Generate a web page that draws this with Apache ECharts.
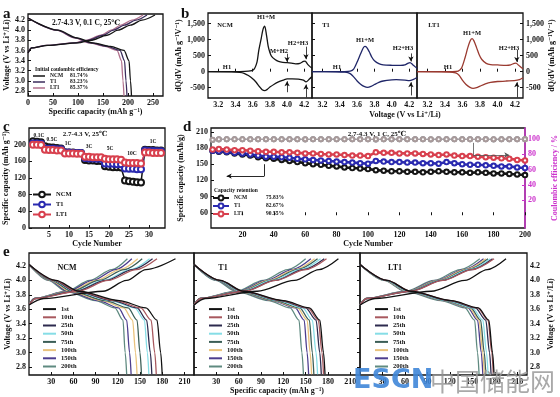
<!DOCTYPE html>
<html>
<head>
<meta charset="utf-8">
<script src="https://cdn.jsdelivr.net/npm/echarts@6/dist/echarts.min.js"></script>
<style>
  html, body { margin: 0; padding: 0; background: #fff; }
  #chart { width: 560px; height: 397px; }
</style>
</head>
<body>
<div id="chart"></div>
<script>
// ---------- a: first charge / discharge, 0.1 C ----------
const A_CH_V = [3.55, 3.65, 3.7, 3.75, 3.8, 3.9, 4.0, 4.1, 4.2, 4.3];
const A_CH_NCM = [0, 8, 40, 100, 125, 158, 180, 205, 228, 254];
const A_CH_T1 = [0, 7, 38, 95, 119, 150, 171, 193, 216, 238];
const A_CH_LT1 = [0, 7, 37, 92, 116, 146, 166, 186, 208, 230];
const A_DIS_V = [4.24, 4.0, 3.85, 3.75, 3.68, 3.6, 3.4, 3.0, 2.7];
const A_DIS_NCM = [0, 60, 98, 130, 165, 192, 202, 205, 207];
const A_DIS_T1 = [0, 58, 95, 126, 158, 184, 193, 196, 198];
const A_DIS_LT1 = [0, 57, 93, 123, 154, 178, 187, 190, 192];
const A_ICE = ['81.74%', '83.23%', '85.37%'];

// ---------- b: dQ/dV, [voltage, dQ/dV] ----------
const B_NCM_UP = [[3.08,0],[3.45,2],[3.55,15],[3.61,60],[3.65,300],[3.67,650],[3.7,1050],[3.72,1320],[3.74,1420],[3.76,1150],[3.78,800],[3.8,600],[3.82,480],[3.86,380],[3.9,320],[3.95,290],[4.0,280],[4.05,265],[4.1,245],[4.15,260],[4.19,320],[4.21,330],[4.24,230],[4.27,150],[4.29,110]];
const B_NCM_DN = [[4.29,-150],[4.26,-230],[4.22,-320],[4.19,-260],[4.13,-230],[4.06,-225],[4.0,-225],[3.96,-260],[3.9,-320],[3.85,-390],[3.8,-480],[3.77,-550],[3.74,-590],[3.71,-560],[3.68,-470],[3.64,-330],[3.6,-220],[3.55,-120],[3.5,-50],[3.45,-20],[3.35,-5],[3.08,0]];
const B_T1_UP = [[3.08,0],[3.45,3],[3.52,15],[3.56,80],[3.6,300],[3.64,560],[3.67,740],[3.69,790],[3.71,760],[3.74,620],[3.77,450],[3.8,340],[3.85,250],[3.9,215],[4.0,200],[4.1,195],[4.15,210],[4.19,270],[4.21,280],[4.24,220],[4.27,150],[4.29,100]];
const B_T1_DN = [[4.29,-180],[4.25,-240],[4.2,-280],[4.15,-260],[4.05,-250],[4.0,-255],[3.9,-290],[3.85,-330],[3.8,-400],[3.76,-460],[3.72,-490],[3.68,-460],[3.64,-390],[3.6,-290],[3.56,-160],[3.52,-60],[3.46,-15],[3.35,-3],[3.08,0]];
const B_LT1_UP = [[3.08,0],[3.48,3],[3.55,20],[3.59,120],[3.63,450],[3.66,750],[3.69,980],[3.71,1030],[3.73,960],[3.76,750],[3.79,530],[3.82,380],[3.87,260],[3.92,220],[4.0,210],[4.1,200],[4.15,215],[4.19,260],[4.21,265],[4.24,200],[4.27,130],[4.29,90]];
const B_LT1_DN = [[4.29,-190],[4.25,-250],[4.19,-280],[4.1,-290],[4.0,-305],[3.92,-330],[3.86,-380],[3.8,-450],[3.76,-500],[3.72,-520],[3.68,-480],[3.64,-400],[3.6,-270],[3.56,-110],[3.52,-40],[3.45,-10],[3.08,0]];

// ---------- c: rate capability ----------
const C_CYC = [1,2,3,4,5,6,7,8,9,10,11,12,13,14,15,16,17,18,19,20,21,22,23,24,25,26,27,28,29,30,31,32,33];
const C_NCM = [208,207,206, 196,194,193,192,191, 182,181,181,180,180, 163,162,162,161,161, 148,147,146,146,145, 114,112,111,110,109, 188,187,187,186,186];
const C_T1 = [203,203,202, 191,190,190,189,189, 181,181,180,180,180, 168,167,167,166,166, 155,154,154,153,153, 143,142,142,141,141, 186,185,185,184,184];
const C_LT1 = [200,200,199, 188,187,187,186,186, 179,179,179,178,178, 171,171,170,170,170, 166,165,165,165,164, 157,156,156,156,155, 181,181,180,180,180];
const C_RATES = ['0.1C', '0.5C', '1C', '3C', '5C', '10C', '1C'];

// ---------- d: cycling at 1 C ----------
const D_CYC = [1,5,10,15,20,25,30,35,40,45,50,55,60,65,70,75,80,85,90,95,100,105,110,115,120,125,130,135,140,145,150,155,160,165,170,175,180,185,190,195,200];
const D_NCM = [175,173,172,170,168,166,163,161,160,158,156,154,152,150,149,147,146,144,143,142,141,139,138,137,137,136,136,135,136,137,136,135,135,134,135,134,133,133,132,131,130];
const D_T1 = [175,174,173,171,170,168,166,164,164,163,162,160,159,158,157,156,155,154,153,152,151,156,155,154,154,153,153,152,152,151,154,152,150,149,149,148,147,146,146,144,143];
const D_LT1 = [177,178,177,176,176,175,174,173,173,172,172,171,170,170,169,168,168,167,166,166,165,172,171,171,170,170,170,169,168,167,168,166,165,165,164,163,162,161,160,158,157];
const D_CE_NCM = [98.6,99.4,99.6,99.5,99.7,99.6,99.5,99.8,99.6,99.5,99.7,99.6,99.4,99.7,99.6,99.5,99.8,99.6,99.5,99.7,99.6,99.3,99.7,99.5,99.6,99.8,99.5,99.6,99.4,99.7,99.6,99.5,99.8,99.6,99.5,99.7,99.4,99.6,99.5,99.7,99.6];
const D_CE_T1 = [98.9,99.5,99.7,99.6,99.5,99.8,99.6,99.7,99.5,99.6,99.8,99.5,99.7,99.6,99.5,99.7,99.6,99.8,99.5,99.6,99.7,99.4,99.6,99.7,99.5,99.6,99.8,99.5,99.7,99.6,99.5,99.7,99.6,99.5,99.8,99.6,99.5,99.7,99.6,99.5,99.7];
const D_CE_LT1 = [99.1,99.6,99.8,99.7,99.6,99.8,99.7,99.6,99.8,99.7,99.6,99.8,99.7,99.6,99.8,99.7,99.6,99.8,99.7,99.6,99.8,99.5,99.7,99.8,99.6,99.7,99.8,99.6,99.7,99.8,99.6,99.7,99.8,99.6,99.7,99.8,99.6,99.7,99.8,99.6,99.7];
const D_RET = ['75.83%', '82.67%', '90.55%'];

// ---------- e: charge/discharge curves of selected cycles ----------
const E_CYCLES = ['1st', '10th', '25th', '50th', '75th', '100th', '150th', '200th'];
const E_CH_V = [3.66, 3.75, 3.85, 4.0, 4.15, 4.3];           // capacities below are read at these voltages
const E_DIS_V = [4.22, 4.0, 3.85, 3.72, 3.62, 3.45, 3.0, 2.7];
const E_NCM_CH = [[0,20,100,132,158,198],[0,9,66,107,145,173],[0,8,63,104,140,167],[0,8,62,101,137,163],[0,8,58,95,129,153],[0,7,56,91,123,147],[0,7,53,86,117,139],[0,7,51,82,112,133]];
const E_NCM_DIS = [[0,36,68,122,158,173,178,180],[0,34,65,117,151,165,170,172],[0,33,63,113,146,159,164,166],[0,32,62,110,143,156,160,162],[0,30,58,103,134,146,150,152],[0,29,55,99,128,140,144,146],[0,28,52,94,121,132,136,138],[0,26,50,90,116,127,130,132]];
const E_T1_CH = [[0,15,85,135,168,194],[0,9,68,110,150,178],[0,9,67,109,147,175],[0,9,65,105,143,170],[0,8,63,103,139,166],[0,8,62,100,136,162],[0,8,60,97,132,157],[0,8,57,93,126,150]];
const E_T1_DIS = [[0,35,67,120,155,169,174,176],[0,35,66,118,153,167,172,174],[0,34,65,116,150,164,169,171],[0,33,63,113,146,159,164,166],[0,32,61,109,142,155,159,161],[0,32,60,107,139,152,156,158],[0,31,59,105,136,148,152,154],[0,29,56,100,129,141,145,147]];
const E_LT1_CH = [[0,20,95,140,170,195],[0,9,68,111,150,179],[0,9,67,110,149,177],[0,9,66,108,146,174],[0,9,65,106,144,171],[0,8,64,104,141,168],[0,8,63,102,139,165],[0,8,61,99,134,160]];
const E_LT1_DIS = [[0,36,68,122,158,172,177,179],[0,36,68,121,157,171,176,178],[0,35,67,119,154,168,173,175],[0,34,65,116,150,164,169,171],[0,34,64,114,148,161,166,168],[0,33,63,113,146,159,164,166],[0,33,62,112,144,157,162,164],[0,32,60,108,140,153,157,159]];

// ---------- styling ----------
const FONT = '"Liberation Serif","DejaVu Serif",serif';
const A_COL = ['#151515', '#3b2d5c', '#b0708c'];
const B_COL = ['#151515', '#1f2668', '#9a3a30'];
const CD_COL = ['#151515', '#2a2ab0', '#d8404e'];
const E_COL = ['#111111', '#a8585e', '#2d2a4e', '#86dde6', '#3b5e56', '#e9c27c', '#4c3d8e', '#5f8a80'];
const MAG = '#cc33cc';
const MATS = ['NCM', 'T1', 'LT1'];

const pairs = (xs, ys) => xs.map((x, i) => [x, ys[i]]);
const fix1 = v => v.toFixed(1);

function grid(left, top, width, height) {
  return {left, top, width, height, show: true, borderColor: '#111', borderWidth: 1.3,
    containLabel: false, outerBoundsMode: 'none'};
}

function axis(gi, min, max, ticks, o) {
  o = o || {};
  const lab = {show: o.labels !== false, customValues: ticks, fontFamily: FONT, fontWeight: 'bold',
    fontSize: 8, color: o.color || '#111', margin: 3};
  if (o.fmt) lab.formatter = o.fmt;
  const ax = {
    type: 'value', gridIndex: gi, min, max,
    axisLine: {show: !!o.line, lineStyle: {color: o.color || '#111', width: 1.5}},
    splitLine: {show: false},
    axisTick: {show: true, inside: true, length: 3, customValues: ticks, lineStyle: {color: o.color || '#111', width: 1}},
    axisLabel: lab,
    nameLocation: 'middle',
    nameTextStyle: {fontFamily: FONT, fontWeight: 'bold', fontSize: 8, color: o.color || '#111'}
  };
  if (o.position) ax.position = o.position;
  if (o.name) { ax.name = o.name; ax.nameGap = o.gap; if (o.rot !== undefined) ax.nameRotate = o.rot; }
  return ax;
}

function line(name, xi, yi, data, color, extra) {
  return Object.assign({
    type: 'line', name, xAxisIndex: xi, yAxisIndex: yi, data,
    showSymbol: false, symbol: 'none', smooth: 0.3, smoothMonotone: 'x',
    lineStyle: {color, width: 1.3}, itemStyle: {color}, silent: true
  }, extra || {});
}

function arrows(list) {
  return {
    silent: true, symbol: ['none', 'arrow'], symbolSize: [4, 5], label: {show: false},
    lineStyle: {color: '#111', width: 0.8, type: 'solid'}, animation: false,
    data: list.map(s => [{coord: s[0]}, {coord: s[1]}])
  };
}

function txt(text, x, y, size, o) {
  o = o || {};
  return {type: 'text', x, y, z: 100, silent: true,
    style: {text, font: (o.normal ? '' : 'bold ') + size + 'px ' + (o.family || FONT), fill: o.fill || '#111',
      align: o.align || 'center', verticalAlign: 'middle', opacity: o.opacity === undefined ? 1 : o.opacity}};
}

// ---------- axes ----------
const VT = [2.8, 3.0, 3.2, 3.4, 3.6, 3.8, 4.0, 4.2];
const BX = [3.2, 3.4, 3.6, 3.8, 4.0, 4.2];
const BY = [-500, 0, 500, 1000, 1500];
const EX = [30, 60, 90, 120, 150, 180, 210];
const VNAME = 'Voltage (V vs Li\u207A/Li)';
const CAPNAME = 'Specific capacity (mAh g\u207B\u00B9)';

const xAxis = [
  axis(0, 0, 270, [0, 50, 100, 150, 200, 250], {name: CAPNAME, gap: 12}),
  axis(1, 3.08, 4.29, BX, {fmt: fix1}),
  axis(2, 3.08, 4.29, BX, {fmt: fix1}),
  axis(3, 3.08, 4.29, BX, {fmt: fix1}),
  axis(4, 0, 34, [5, 10, 15, 20, 25, 30], {name: 'Cycle Number', gap: 10}),
  axis(5, 0, 200, [20, 40, 60, 80, 100, 120, 140, 160, 180, 200], {name: 'Cycle Number', gap: 10}),
  axis(6, 0, 223, EX),
  axis(7, 0, 223, EX, {name: CAPNAME, gap: 11}),
  axis(8, 0, 223, EX)
];
const yAxis = [
  axis(0, 2.7, 4.32, VT, {fmt: fix1, name: VNAME, gap: 14, rot: 90}),
  axis(1, -820, 1830, BY, {name: 'dQ/dV (mAh g\u207B\u00B9V\u207B\u00B9)', gap: 16, rot: 90}),
  axis(2, -820, 1830, BY, {labels: false}),
  axis(3, -820, 1830, BY, {position: 'right', name: 'dQ/dV (mAh g\u207B\u00B9V\u207B\u00B9)', gap: 24, rot: 90}),
  axis(4, 0, 240, [0, 40, 80, 120, 160, 200], {name: CAPNAME, gap: 16, rot: 90}),
  axis(5, 32, 217, [60, 90, 120, 150, 180, 210], {name: 'Specific capacity (mAh/g)', gap: 18, rot: 90}),
  axis(5, -16.7, 114.4, [20, 40, 60, 80, 100], {position: 'right', line: true, color: MAG,
    name: 'Coulombic efficiency / %', gap: 23, rot: 90}),
  axis(6, 2.69, 4.38, VT, {fmt: fix1, name: VNAME, gap: 15, rot: 90}),
  axis(7, 2.69, 4.38, VT, {labels: false}),
  axis(8, 2.69, 4.38, VT, {fmt: fix1, position: 'right', name: VNAME, gap: 20, rot: 90})
];

// ---------- series ----------
const series = [];
// a
const aCh = [A_CH_NCM, A_CH_T1, A_CH_LT1], aDis = [A_DIS_NCM, A_DIS_T1, A_DIS_LT1];
[2, 1, 0].forEach(m => {
  series.push(line('a-' + MATS[m], 0, 0, pairs(aCh[m], A_CH_V), A_COL[m]));
  series.push(line('a-' + MATS[m], 0, 0, pairs(aDis[m], A_DIS_V), A_COL[m]));
});
// b
const bUp = [B_NCM_UP, B_T1_UP, B_LT1_UP], bDn = [B_NCM_DN, B_T1_DN, B_LT1_DN];
const bArrUp = [
  [[[4.0, 560], [4.0, 300]], [[4.22, 780], [4.22, 390]]],
  [[[4.22, 570], [4.22, 320]]],
  [[[4.22, 680], [4.22, 300]]]
];
const bArrDn = [
  [[[4.0, -640], [4.0, -300]], [[4.22, -800], [4.22, -400]]],
  [[[4.22, -740], [4.22, -330]]],
  [[[4.22, -800], [4.22, -330]]]
];
MATS.forEach((m, i) => {
  series.push(line('b-' + m, 1 + i, 1 + i, bUp[i], B_COL[i], {smoothMonotone: null, smooth: 0.25, markLine: arrows(bArrUp[i])}));
  series.push(line('b-' + m, 1 + i, 1 + i, bDn[i], B_COL[i], {smoothMonotone: null, smooth: 0.25, markLine: arrows(bArrDn[i])}));
});
// c
const cVals = [C_NCM, C_T1, C_LT1];
MATS.forEach((m, i) => {
  series.push({
    type: 'line', name: 'c-' + m, xAxisIndex: 4, yAxisIndex: 4, data: pairs(C_CYC, cVals[i]),
    symbol: 'emptyCircle', symbolSize: 6, showSymbol: true, silent: true,
    lineStyle: {color: CD_COL[i], width: 1.5}, itemStyle: {color: CD_COL[i], borderColor: CD_COL[i], borderWidth: 2}
  });
});
// d
const dVals = [D_NCM, D_T1, D_LT1], dCE = [D_CE_NCM, D_CE_T1, D_CE_LT1];
const ceCol = ['#8c8c8c', '#9a9aa8', '#a89a9a'];
MATS.forEach((m, i) => {
  series.push({
    type: 'line', name: 'ce-' + m, xAxisIndex: 5, yAxisIndex: 6, data: pairs(D_CYC, dCE[i]),
    symbol: 'emptyCircle', symbolSize: 4, showSymbol: true, silent: true,
    lineStyle: {color: ceCol[i], width: 0.8}, itemStyle: {color: ceCol[i], borderWidth: 1},
    markLine: i === 0 ? {
      silent: true, label: {show: false}, animation: false, symbolSize: [4, 5],
      lineStyle: {color: '#555', width: 0.8, type: 'solid'},
      data: [[{coord: [167, 95], symbol: 'none'}, {coord: [167, 79], symbol: 'none'}],
             [{coord: [167, 79], symbol: 'none'}, {coord: [190, 79], symbol: 'arrow'}]]
    } : undefined
  });
});
MATS.forEach((m, i) => {
  series.push({
    type: 'line', name: 'd-' + m, xAxisIndex: 5, yAxisIndex: 5, data: pairs(D_CYC, dVals[i]),
    symbol: 'emptyCircle', symbolSize: 4.5, showSymbol: true, silent: true,
    lineStyle: {color: CD_COL[i], width: 2.6}, itemStyle: {color: CD_COL[i], borderColor: CD_COL[i], borderWidth: 1.6},
    markLine: i === 0 ? {
      silent: true, label: {show: false}, animation: false, symbolSize: [4, 5],
      lineStyle: {color: '#111', width: 0.9, type: 'solid'},
      data: [[{coord: [34, 150], symbol: 'none'}, {coord: [34, 128], symbol: 'none'}],
             [{coord: [34, 128], symbol: 'none'}, {coord: [10, 128], symbol: 'arrow'}]]
    } : undefined
  });
});
// e
const eCh = [E_NCM_CH, E_T1_CH, E_LT1_CH], eDis = [E_NCM_DIS, E_T1_DIS, E_LT1_DIS];
[0, 1, 2].forEach(p => {
  for (let k = E_CYCLES.length - 1; k >= 0; k--) {
    series.push(line(E_CYCLES[k], 6 + p, 7 + p, pairs(eCh[p][k], E_CH_V), E_COL[k], {lineStyle: {color: E_COL[k], width: 1.3}}));
    series.push(line(E_CYCLES[k], 6 + p, 7 + p, pairs(eDis[p][k], E_DIS_V), E_COL[k], {lineStyle: {color: E_COL[k], width: 1.3}}));
  }
});

// ---------- legends ----------
const legText = {fontFamily: FONT, fontWeight: 'bold', color: '#111'};
function richLegend(names, shown, pct, left, top, size, nameW, lh, o) {
  const fm = {};
  names.forEach((n, i) => { fm[n] = '{n|' + shown[i] + '}{p|' + pct[i] + '}'; });
  return Object.assign({
    data: names, left, top, orient: 'vertical', padding: 0, itemGap: 0, selectedMode: false,
    formatter: n => fm[n],
    textStyle: Object.assign({fontSize: size, lineHeight: lh, rich: {
      n: Object.assign({fontSize: size, width: nameW}, legText),
      p: Object.assign({fontSize: size}, legText)}}, legText)
  }, o);
}
const eLegend = left => ({
  data: E_CYCLES, left, top: 305, orient: 'vertical', padding: 0, itemGap: 0, selectedMode: false,
  icon: 'rect', itemWidth: 13, itemHeight: 2,
  textStyle: Object.assign({fontSize: 6.5, lineHeight: 8.2}, legText)
});
const legend = [
  richLegend(['a-NCM', 'a-T1', 'a-LT1'], MATS, A_ICE, 33, 73, 5.5, 20, 5.2, {icon: 'rect', itemWidth: 12, itemHeight: 1.5}),
  {data: ['c-NCM', 'c-T1', 'c-LT1'], left: 32, top: 190, orient: 'vertical', padding: 0, itemGap: 1,
    selectedMode: false, itemWidth: 18, itemHeight: 7, formatter: n => n.slice(2),
    textStyle: Object.assign({fontSize: 6.5, lineHeight: 9}, legText)},
  richLegend(['d-NCM', 'd-T1', 'd-LT1'], MATS, D_RET, 212, 194, 5.5, 32, 8, {itemWidth: 16, itemHeight: 6}),
  eLegend(43), eLegend(209), eLegend(375)
];

// ---------- text ----------
const graphic = [
  txt('a', 3, 14, 15, {align: 'left'}), txt('b', 181, 14, 15, {align: 'left'}),
  txt('c', 3, 127, 15, {align: 'left'}), txt('d', 183, 127, 15, {align: 'left'}),
  txt('e', 3, 252, 15, {align: 'left'}),
  txt('2.7-4.3 V, 0.1 C, 25\u2103', 86, 23, 7.5),
  txt('Initial coulombic efficiency', 35, 70, 5.5, {align: 'left'}),
  txt('NCM', 225, 25, 6.5), txt('H1+M', 266, 17, 6.5), txt('M+H2', 279, 51, 6.5), txt('H2+H3', 298, 43, 6.5), txt('H1', 227, 67, 6.5),
  txt('T1', 326, 25, 6.5), txt('H1+M', 365, 40, 6.5), txt('H2+H3', 403, 48, 6.5), txt('H1', 337, 67, 6.5),
  txt('LT1', 434, 25, 6.5), txt('H1+M', 472, 33, 6.5), txt('H2+H3', 509, 48, 6.5), txt('H1', 448, 67, 6.5),
  txt(VNAME, 405, 115, 8),
  txt('2.7-4.3 V, 25\u2103', 85, 134, 7),
  txt(C_RATES[0], 39, 136, 5.5), txt(C_RATES[1], 52, 140, 5.5), txt(C_RATES[2], 68, 144, 5.5),
  txt(C_RATES[3], 89, 147, 5.5), txt(C_RATES[4], 110, 149, 5.5), txt(C_RATES[5], 132, 154, 5.5), txt(C_RATES[6], 153, 142, 5.5),
  txt('2.7-4.3 V, 1 C, 25\u2103', 377, 134, 7),
  txt('Capacity retention', 214, 191, 5.5, {align: 'left'}),
  txt('NCM', 67, 268, 8), txt('T1', 223, 268, 8), txt('LT1', 395, 268, 8),
  txt('ESCN', 353, 381, 27, {align: 'left', family: '"DejaVu Sans",sans-serif', fill: '#3f86d8', opacity: 0.9}),
  txt('中国储能网', 430, 381, 25, {align: 'left', normal: true, family: '"Noto Sans CJK SC",sans-serif', fill: '#9a9a9a', opacity: 0.85})
];

const chart = echarts.init(document.getElementById('chart'));
chart.setOption({
  animation: false,
  backgroundColor: '#fff',
  grid: [
    grid(28, 14, 135, 82),
    grid(208, 13, 104, 85), grid(312, 13, 105, 85), grid(417, 13, 106, 85),
    grid(29, 128, 136, 100),
    grid(211, 128, 314, 100),
    grid(29, 253, 165, 122), grid(194, 253, 166, 122), grid(360, 253, 167, 122)
  ],
  xAxis, yAxis, series, legend, graphic
});
</script>
</body>
</html>
